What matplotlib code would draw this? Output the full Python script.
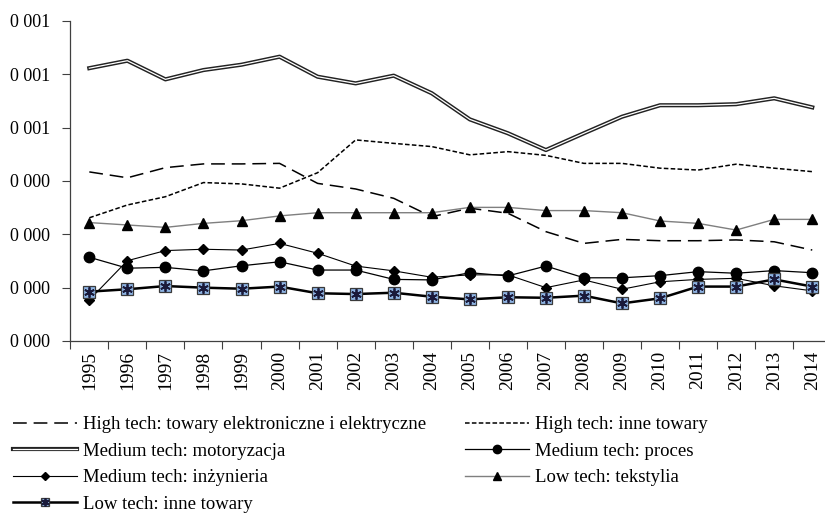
import matplotlib
matplotlib.use("Agg")
import matplotlib.pyplot as plt
import matplotlib.patheffects as pe
from matplotlib.legend_handler import HandlerTuple
from matplotlib.ticker import FixedLocator, FixedFormatter

plt.rcParams['font.family'] = ['Liberation Serif', 'DejaVu Serif']

years = [str(y) for y in range(1995, 2015)]

# udzialy
ht_elektro = [0.000634, 0.000612, 0.000650, 0.000664, 0.000664, 0.000666, 0.000591, 0.000570, 0.000535, 0.000466,
              0.000498, 0.000479, 0.000410, 0.000366, 0.000381, 0.000376, 0.000376, 0.000379, 0.000372, 0.000341]
ht_inne = [0.000462, 0.000510, 0.000541, 0.000594, 0.000589, 0.000573, 0.000631, 0.000754, 0.000741, 0.000729,
           0.000698, 0.000710, 0.000696, 0.000666, 0.000666, 0.000648, 0.000641, 0.000663, 0.000648, 0.000635]
mt_motor = [0.001023, 0.001051, 0.000981, 0.001016, 0.001036, 0.001066, 0.000991, 0.000966, 0.000995, 0.000929,
            0.000831, 0.000779, 0.000716, 0.000779, 0.000841, 0.000884, 0.000884, 0.000888, 0.000910, 0.000876]
mt_proces = [0.000314, 0.000273, 0.000276, 0.000263, 0.000282, 0.000297, 0.000266, 0.000266, 0.000231, 0.000229,
             0.000256, 0.000244, 0.000281, 0.000237, 0.000237, 0.000245, 0.000260, 0.000254, 0.000264, 0.000256]
mt_inz = [0.000154, 0.000301, 0.000339, 0.000344, 0.000341, 0.000366, 0.000329, 0.000281, 0.000263, 0.000239,
          0.000248, 0.000248, 0.000200, 0.000229, 0.000194, 0.000222, 0.000231, 0.000235, 0.000207, 0.000188]
lt_tekst = [0.000444, 0.000435, 0.000426, 0.000441, 0.000451, 0.000469, 0.000481, 0.000481, 0.000481, 0.000481,
            0.000501, 0.000501, 0.000489, 0.000489, 0.000481, 0.000450, 0.000441, 0.000416, 0.000456, 0.000456]
lt_inne = [0.000185, 0.000194, 0.000206, 0.000200, 0.000196, 0.000204, 0.000179, 0.000176, 0.000181, 0.000166,
           0.000156, 0.000164, 0.000162, 0.000170, 0.000141, 0.000160, 0.000204, 0.000204, 0.000231, 0.000204]

yticks = [0, 0.0002, 0.0004, 0.0006, 0.0008, 0.0010, 0.0012]
ylabels = ['0 000', '0 000', '0 000', '0 000', '0 001', '0 001', '0 001']

fig = plt.figure(figsize=(8.25, 5.14), dpi=100)
ax = fig.add_axes([0.0852, 0.3366, 0.9224, 0.6226])

x = range(len(years))
l_el, = ax.plot(x, ht_elektro, color='black', lw=1.1, dashes=(9, 4.5),
                label='High tech: towary elektroniczne i elektryczne')
l_hi, = ax.plot(x, ht_inne, color='black', lw=1.1, dashes=(3, 1.5),
                label='High tech: inne towary')
l_mo, = ax.plot(x, mt_motor, color='white', lw=0.9,
                path_effects=[pe.Stroke(linewidth=3.0, foreground='#222222'), pe.Normal()],
                label='Medium tech: motoryzacja')
l_te, = ax.plot(x, lt_tekst, color='#7f7f7f', lw=1.0, marker='^', ms=7.5,
                mfc='black', mec='black', label='Low tech: tekstylia')
l_in, = ax.plot(x, mt_inz, color='black', lw=0.8, marker='D', ms=5,
                mfc='black', mec='black', label='Medium tech: inżynieria')
l_pr, = ax.plot(x, mt_proces, color='black', lw=0.9, marker='o', ms=7.5,
                mfc='black', mec='black', label='Medium tech: proces')
l_lo, = ax.plot(x, lt_inne, color='black', lw=1.8, marker='s', ms=8,
                mfc='#8db3e2', mec='#3a3a3a', mew=0.9)
l_lo2, = ax.plot(x, lt_inne, ls='none', marker=(6, 2, 0), ms=7.5,
                 mec='#1a1a3a', mew=1.3)

ax.set_xlim(-0.5, len(years) - 0.5)
ax.set_ylim(0, 0.0012)
ax.xaxis.set_major_locator(FixedLocator([i - 0.5 for i in range(len(years) + 1)]))
ax.xaxis.set_major_formatter(FixedFormatter([''] * (len(years) + 1)))
ax.xaxis.set_minor_locator(FixedLocator(list(x)))
ax.xaxis.set_minor_formatter(FixedFormatter(years))
ax.tick_params(axis='x', which='major', length=6, width=0.8, color='#404040')
ax.tick_params(axis='x', which='minor', length=0, pad=7, labelsize=14, rotation=90)
ax.yaxis.set_major_locator(FixedLocator(yticks))
ax.yaxis.set_major_formatter(FixedFormatter(ylabels))
ax.tick_params(axis='y', length=6, width=0.8, color='#404040', labelsize=13, pad=8.5)
for s in ['top', 'right']:
    ax.spines[s].set_visible(False)
for s in ['left', 'bottom']:
    ax.spines[s].set_color('#404040')
    ax.spines[s].set_linewidth(0.9)

handles = [l_el, l_mo, l_in, (l_lo, l_lo2), l_hi, l_pr, l_te]
labels = ['High tech: towary elektroniczne i elektryczne', 'Medium tech: motoryzacja',
          'Medium tech: inżynieria', 'Low tech: inne towary',
          'High tech: inne towary', 'Medium tech: proces', 'Low tech: tekstylia']
fig.legend(handles, labels, loc='upper left', bbox_to_anchor=(13 / 825, 1 - 416 / 514),
           ncol=2, frameon=False, fontsize=13.5, handlelength=3.4, handletextpad=0.35,
           columnspacing=2.05, labelspacing=0.5, borderpad=0, borderaxespad=0,
           markerscale=0.8, handler_map={tuple: HandlerTuple(ndivide=1)})

fig.savefig('out.png', dpi=100)
